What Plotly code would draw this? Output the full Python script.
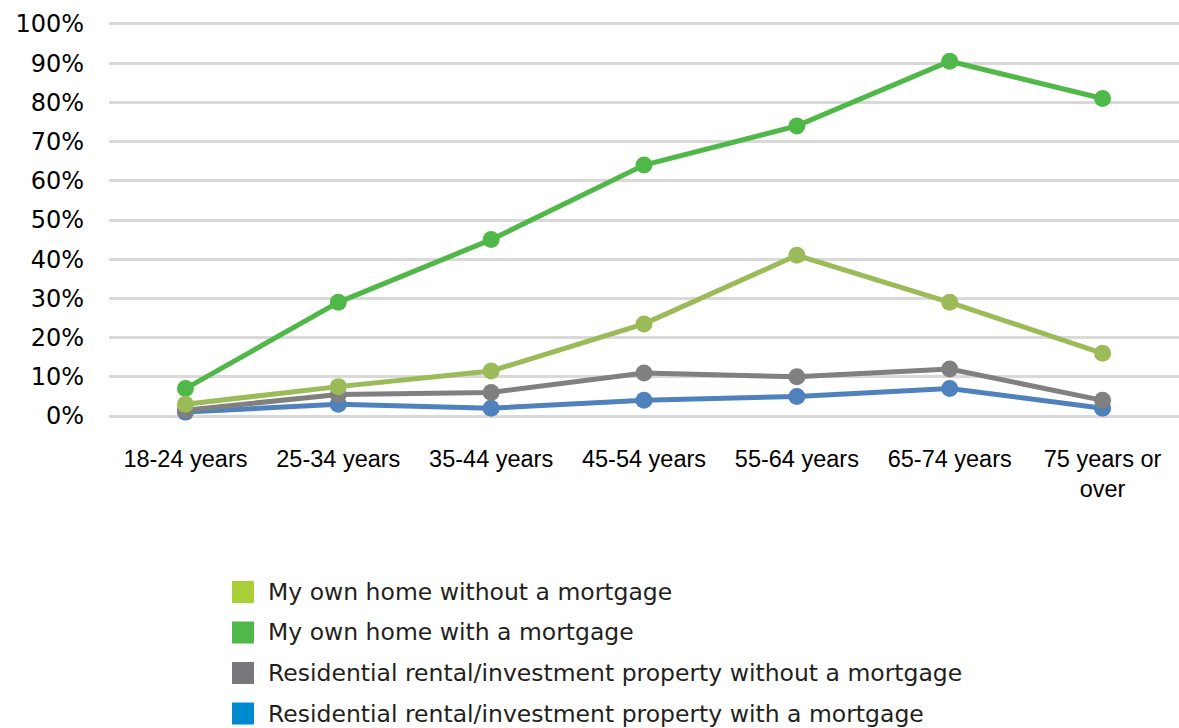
import plotly.graph_objects as go

# ---------------------------------------------------------------------------
# Data
# ---------------------------------------------------------------------------
age_groups = [
    "18-24 years", "25-34 years", "35-44 years", "45-54 years",
    "55-64 years", "65-74 years", "75 years or<br>over",
]

own_no_mortgage = [3, 7.5, 11.5, 23.5, 41, 29, 16]
own_mortgage = [7, 29, 45, 64, 74, 90.5, 81]
rental_no_mortgage = [1.5, 5.5, 6, 11, 10, 12, 4]
rental_mortgage = [1, 3, 2, 4, 5, 7, 2]

series_names = [
    "My own home without a mortgage",
    "My own home with a mortgage",
    "Residential rental/investment property without a mortgage",
    "Residential rental/investment property with a mortgage",
]
series_values = [own_no_mortgage, own_mortgage, rental_no_mortgage, rental_mortgage]

line_colours = ["#9bbb59", "#50b848", "#808080", "#4f81bd"]
legend_colours = ["#a8cf38", "#50b848", "#77787b", "#0089cf"]

y_ticks = list(range(0, 101, 10))
y_tick_text = [f"{v}%" for v in y_ticks]

# page pixels
_W, _H = 1179, 728
_PLOT_LEFT, _PLOT_RIGHT = 109, 1179
_PLOT_TOP, _PLOT_BOTTOM = 22, 418
_Y_RANGE = [-0.5, 100.5]

fig = go.Figure()

# draw order: blue, gray, dark green, light green on top
for i in [3, 2, 1, 0]:
    fig.add_trace(go.Scatter(
        x=age_groups, y=series_values[i],
        mode="lines+markers", name=series_names[i],
        line=dict(color=line_colours[i], width=5),
        marker=dict(color=line_colours[i], size=17),
        cliponaxis=False,
        showlegend=False,
    ))


def _px(x):
    return (x - _PLOT_LEFT) / (_PLOT_RIGHT - _PLOT_LEFT)


def _py(y):
    return (_PLOT_BOTTOM - y) / (_PLOT_BOTTOM - _PLOT_TOP)


# legend: coloured swatch + label, stacked below the axis
for i, (name, colour) in enumerate(zip(series_names, legend_colours)):
    cy = 592 + i * 40.5
    fig.add_shape(
        type="rect", xref="paper", yref="paper",
        x0=_px(232), x1=_px(254), y0=_py(cy - 11), y1=_py(cy + 11),
        fillcolor=colour, line_width=0,
    )
    fig.add_annotation(
        x=_px(266), y=_py(cy), xref="paper", yref="paper",
        text=name, showarrow=False, xanchor="left", yanchor="middle",
        font=dict(family="DejaVu Sans", size=23.5, color="#231f20"),
    )

fig.update_layout(
    width=_W, height=_H,
    template="plotly_white",
    plot_bgcolor="white", paper_bgcolor="white",
    showlegend=False,
    margin=dict(l=_PLOT_LEFT, r=_W - _PLOT_RIGHT, t=_PLOT_TOP, b=_H - _PLOT_BOTTOM),
    xaxis=dict(
        range=[-0.5, len(age_groups) - 0.5],
        showgrid=False, showline=False, zeroline=False, ticks="",
        tickfont=dict(family="Liberation Sans", size=23.5, color="#000000"),
        ticklabelstandoff=24, automargin=False,
    ),
    yaxis=dict(
        range=_Y_RANGE, tickvals=y_ticks, ticktext=y_tick_text,
        showgrid=True, gridcolor="#d9d9d9", gridwidth=2.5,
        zeroline=False, showline=False, ticks="",
        tickfont=dict(family="DejaVu Sans", size=24, color="#000000"),
        ticklabelstandoff=24, automargin=False,
    ),
)

# drop the default body margin so the figure fills the window exactly
fig.write_html(
    "out.html",
    config={"displayModeBar": False},
    post_script="document.body.style.margin='0';document.body.style.overflow='hidden';",
)
